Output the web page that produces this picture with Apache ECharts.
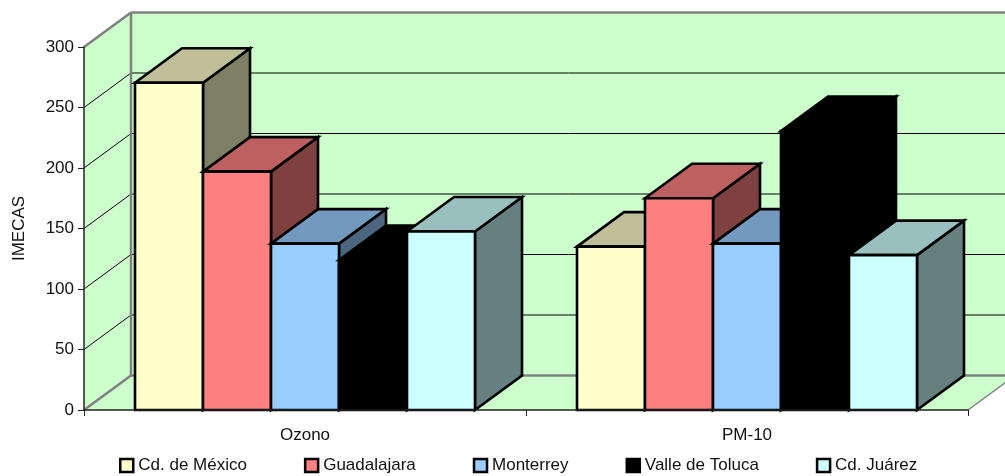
<!DOCTYPE html>
<html><head><meta charset="utf-8">
<script src="https://cdn.jsdelivr.net/npm/echarts@6/dist/echarts.min.js"></script>
<style>html,body{margin:0;padding:0;background:#fff}#c{width:1005px;height:476px}</style>
</head><body><div id="c"></div>
<script>
var categories = ['Ozono', 'PM-10'];
var cdMexico = [270.5, 135];
var guadalajara = [197, 175];
var monterrey = [137.5, 137.5];
var valleToluca = [124, 230.5];
var cdJuarez = [147.5, 128];
var yTicks = [0, 50, 100, 150, 200, 250, 300];

var cities = [
  {name: 'Cd. de México', values: cdMexico, front: '#FFFFCC', top: '#BFBF99', side: '#7F7F66'},
  {name: 'Guadalajara', values: guadalajara, front: '#FF8080', top: '#BF6060', side: '#7F4040'},
  {name: 'Monterrey', values: monterrey, front: '#99CCFF', top: '#7399BF', side: '#4D667F'},
  {name: 'Valle de Toluca', values: valleToluca, front: '#000000', top: '#000000', side: '#000000'},
  {name: 'Cd. Juárez', values: cdJuarez, front: '#CCFFFF', top: '#99BFBF', side: '#667F7F'}
];
var DX = 47, DY = 34.5, GAP = 1.5, WALL = '#CCFFCC', WALLLINE = '#808080';

function poly(pts, fill, stroke, w, z) {
  return {type: 'polygon', z2: z || 0, shape: {points: pts},
    style: {fill: fill, stroke: stroke, lineWidth: w, lineJoin: 'miter'}};
}
function line(a, b, stroke, w, z) {
  return {type: 'line', z2: z || 0, shape: {x1: a[0], y1: a[1], x2: b[0], y2: b[1]},
    style: {stroke: stroke, lineWidth: w, fill: null}};
}
function renderWalls(params, api) {
  var o = api.coord([0, 0]);
  var band = api.size([1, 0])[0];
  var x0 = o[0] - band / 2, x1 = x0 + band * categories.length;
  var y0 = o[1], yT = api.coord([0, yTicks[yTicks.length - 1]])[1];
  var c = [
    poly([[x0 + DX, yT - DY], [x1 + DX, yT - DY], [x1 + DX, y0 - DY], [x0 + DX, y0 - DY]], WALL, 'none', 0),
    poly([[x0, yT], [x0 + DX, yT - DY], [x0 + DX, y0 - DY], [x0, y0]], WALL, 'none', 0),
    poly([[x0, y0], [x0 + DX, y0 - DY], [x1 + DX, y0 - DY], [x1, y0]], WALL, 'none', 0)
  ];
  yTicks.slice(1, -1).forEach(function (t) {
    var y = api.coord([0, t])[1];
    c.push(line([x0, y], [x0 + DX, y - DY], '#000', 1, 1));
    c.push(line([x0 + DX, y - DY], [x1 + DX, y - DY], '#000', 1, 1));
  });
  c.push(line([x0, yT], [x0 + DX, yT - DY], WALLLINE, 2.5, 2));
  c.push(line([x0 + DX, yT - DY], [x1 + DX, yT - DY], WALLLINE, 2.5, 2));
  c.push(line([x0 + DX, yT - DY], [x0 + DX, y0 - DY], WALLLINE, 2.5, 2));
  c.push(line([x0, y0], [x0 + DX, y0 - DY], WALLLINE, 2.5, 2));
  c.push(line([x0 + DX, y0 - DY], [x1 + DX, y0 - DY], WALLLINE, 2.5, 2));
  c.push(line([x1, y0], [x1 + DX, y0 - DY], WALLLINE, 1.5, 2));
  return {type: 'group', children: c};
}
function makeBar(city, idx) {
  return function (params, api) {
    var p = api.coord([api.value(0), api.value(1)]);
    var b = api.coord([api.value(0), 0]);
    var band = api.size([1, 0])[0];
    var w = band / (cities.length + GAP);
    var l = b[0] - w * cities.length / 2 + idx * w, r = l + w, t = p[1], y0 = b[1];
    return {type: 'group', children: [
      poly([[r, y0], [r + DX, y0 - DY], [r + DX, t - DY], [r, t]], city.side, '#000', 2.6),
      poly([[l, t], [l + DX, t - DY], [r + DX, t - DY], [r, t]], city.top, '#000', 2.6),
      poly([[l, t], [r, t], [r, y0], [l, y0]], city.front, '#000', 2.6)
    ]};
  };
}
var series = [{
  type: 'custom', name: 'walls', silent: true, clip: false, z: 1,
  data: [[0, 0]], renderItem: renderWalls, encode: {x: 0, y: 1}
}];
cities.forEach(function (c, i) {
  series.push({
    type: 'custom', name: c.name, clip: false, z: 2 + i,
    itemStyle: {color: c.front},
    data: c.values.map(function (v, k) { return [k, v]; }),
    renderItem: makeBar(c, i), encode: {x: 0, y: 1}
  });
});
var font = 'Liberation Sans';
var chart = echarts.init(document.getElementById('c'), null, {renderer: 'canvas'});
chart.setOption({
  animation: false,
  backgroundColor: '#fff',
  grid: {left: 84, right: 37, top: 47, bottom: 66, containLabel: false, outerBoundsMode: 'none'},
  legend: {
    left: 119, top: 457, icon: 'rect', itemWidth: 13, itemHeight: 13, itemGap: 57,
    selectedMode: false, padding: 0,
    itemStyle: {borderColor: '#000', borderWidth: 2.5},
    textStyle: {fontFamily: font, fontSize: 17, color: '#111'},
    data: cities.map(function (c) { return c.name; })
  },
  xAxis: {
    type: 'category', data: categories, z: 20,
    axisLine: {lineStyle: {color: '#222', width: 1.5}},
    axisTick: {show: true, alignWithLabel: false, length: 6, lineStyle: {color: '#222'}},
    axisLabel: {fontFamily: font, fontSize: 17, color: '#111', margin: 17},
    splitLine: {show: false}
  },
  yAxis: {
    type: 'value', min: 0, max: 300, interval: 50, z: 20,
    name: 'IMECAS', nameLocation: 'middle', nameGap: 56, nameRotate: 90,
    nameTextStyle: {fontFamily: font, fontSize: 17, color: '#111'},
    axisLine: {show: true, onZero: false, lineStyle: {color: '#222', width: 1.5}},
    axisTick: {show: true, length: 6, lineStyle: {color: '#222'}},
    axisLabel: {fontFamily: font, fontSize: 17, color: '#111', margin: 10, padding: [2, 0, 0, 0]},
    splitLine: {show: false}
  },
  series: series
});
</script></body></html>
